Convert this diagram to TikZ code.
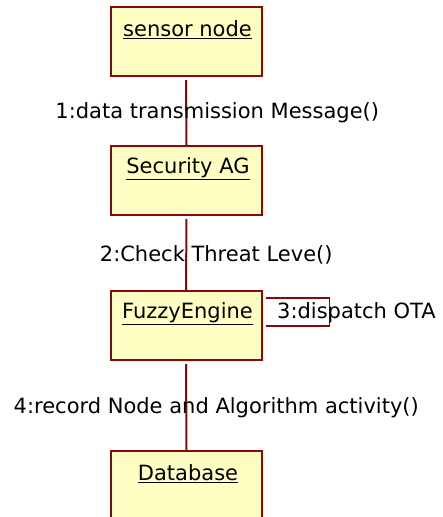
\documentclass[tikz,border=0pt]{standalone}
\usepackage{fontspec}
\setmainfont{DejaVu Sans}
\begin{document}
\begin{tikzpicture}[x=1pt,y=-1pt,
  obj/.style={draw=linkred, line width=2pt, fill=objfill, minimum width=151pt, minimum height=69pt, inner sep=0pt},
  objname/.style={font=\fontsize{21}{25}\selectfont, anchor=center, inner sep=0pt, yshift=-24pt, xshift=1.5pt},
  link/.style={draw=linkred, line width=2pt},
  msg/.style={font=\fontsize{21}{25}\selectfont, inner sep=0pt, text=black}]
\definecolor{linkred}{RGB}{135,10,10}
\definecolor{objfill}{RGB}{255,255,196}
\useasboundingbox (0,0) rectangle (443,517);
\clip (0,0) rectangle (443,517);

% collaboration objects
\node[obj, label={[objname, name=snL]north:\underline{sensor node}}] (sn) at (186,41.5) {};
\node[obj, label={[objname, name=saL]north:\underline{Security AG}}] (sa) at (186.5,180.5) {};
\node[obj, label={[objname, name=feL]north:\underline{FuzzyEngine}}] (fe) at (186,325.5) {};
\node[obj, label={[objname, name=dbL]north:\underline{Database}}] (db) at (186.5,485.5) {};

% links with their messages
\draw[link, shorten <=3pt] (sn.south) -- node[msg, xshift=31pt, yshift=-2pt] (m1) {1:data transmission Message()} (sa.north);
\draw[link, shorten <=3pt] (sa.south) -- node[msg, xshift=30pt, yshift=-2pt] (m2) {2:Check Threat Leve()} (fe.north);
\draw[link, shorten <=3pt] (fe.south) -- node[msg, xshift=30pt, yshift=-2.5pt] (m4) {4:record Node and Algorithm activity()} (db.north);

% self link on the fuzzy engine
\coordinate (selfA) at ([xshift=3pt, yshift=-8pt]fe.north east);
\coordinate (selfB) at ([xshift=3pt, yshift=-36pt]fe.north east);
\draw[link, line width=1.6pt] (selfA) -- ++(64,0) |- (selfB);
\node[msg, anchor=west] (m3) at (277,313) {3:dispatch OTA};
\end{tikzpicture}
\end{document}
